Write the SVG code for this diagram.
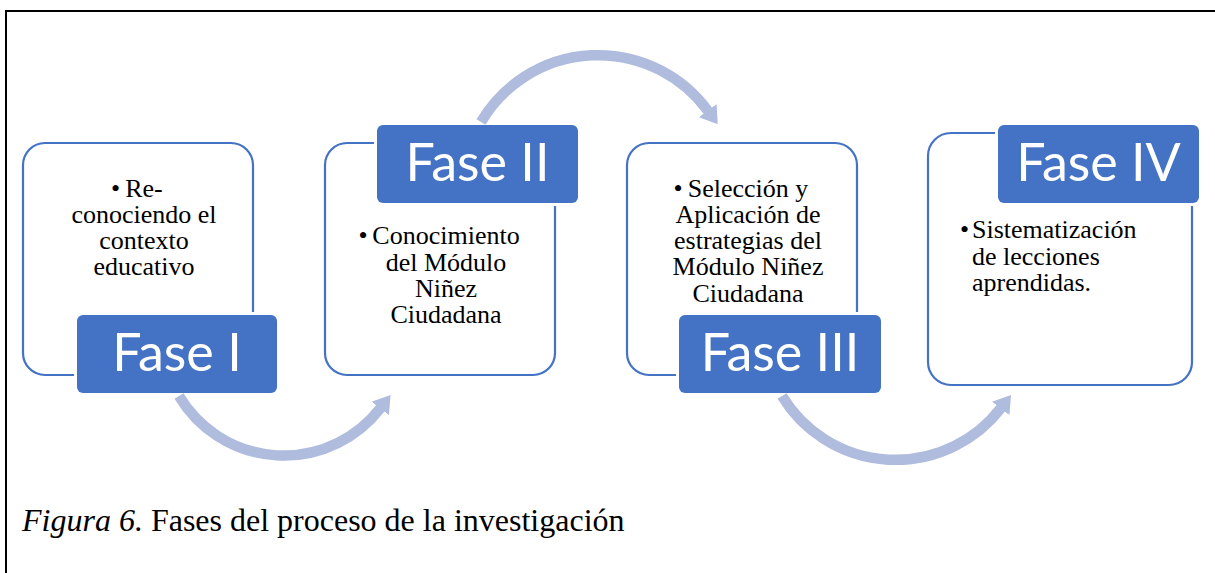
<svg xmlns="http://www.w3.org/2000/svg" width="1215" height="573" viewBox="0 0 1215 573">
<style>
.frame{fill:none;stroke:#000;stroke-width:2}
.box{fill:#fff;stroke:#4472C4;stroke-width:2.2}
.lab{fill:#4472C4;stroke:#fff;stroke-width:6;paint-order:stroke}
.lt{font-family:Lato,"Liberation Sans",sans-serif;font-size:52px;fill:#fff;text-anchor:middle}
.bt{font-family:"Liberation Serif","Times New Roman",serif;font-size:26px;fill:#000}
.c{text-anchor:middle}
.arc{fill:none;stroke:#AFBCDE;stroke-width:10.5}
.cap{font-family:"Liberation Serif","Times New Roman",serif;font-size:32px;fill:#000}
</style>
<defs>
<marker id="ah" markerUnits="userSpaceOnUse" viewBox="0 0 17 22" markerWidth="17" markerHeight="22" refX="0.5" refY="11" orient="auto">
<path d="M0,0 L17,11 L0,22 z" fill="#AFBCDE"/>
</marker>
</defs>
<rect width="1215" height="573" fill="#fff"/>
<path class="frame" d="M6,573 V11 H1215"/>

<g id="fase1">
<rect class="box" x="23" y="143" width="230" height="232" rx="22"/>
<rect class="lab" x="77" y="315" width="200" height="78" rx="6"/>
<text class="lt" x="177" y="371">Fase I</text>
<text class="bt" x="111" y="197">•</text>
<text class="bt c" x="144" y="197">Re-</text>
<text class="bt c" x="144" y="223">conociendo el</text>
<text class="bt c" x="144" y="249">contexto</text>
<text class="bt c" x="144" y="275">educativo</text>
</g>

<g id="fase2">
<rect class="box" x="325" y="143" width="230" height="232" rx="22"/>
<rect class="lab" x="377" y="125" width="201" height="78" rx="6"/>
<text class="lt" x="477.5" y="181">Fase II</text>
<text class="bt" x="358.5" y="244">•</text>
<text class="bt c" x="446" y="244">Conocimiento</text>
<text class="bt c" x="446" y="270.5">del Módulo</text>
<text class="bt c" x="446" y="297">Niñez</text>
<text class="bt c" x="446" y="323">Ciudadana</text>
</g>

<g id="fase3">
<rect class="box" x="627" y="143" width="230" height="232" rx="22"/>
<rect class="lab" x="679" y="315" width="202" height="78" rx="6"/>
<text class="lt" x="780" y="371">Fase III</text>
<text class="bt" x="673.5" y="196.7">•</text>
<text class="bt c" x="748" y="196.7">Selección y</text>
<text class="bt c" x="748" y="222.9">Aplicación de</text>
<text class="bt c" x="748" y="249.1">estrategias del</text>
<text class="bt c" x="748" y="275.3">Módulo Niñez</text>
<text class="bt c" x="748" y="301.5">Ciudadana</text>
</g>

<g id="fase4">
<rect class="box" x="928" y="133" width="264" height="252" rx="23"/>
<rect class="lab" x="998" y="125" width="201" height="78" rx="6"/>
<text class="lt" x="1098.5" y="181">Fase IV</text>
<text class="bt" x="960" y="238.3">•</text>
<text class="bt" x="972" y="238.3">Sistematización</text>
<text class="bt" x="972" y="264.8">de lecciones</text>
<text class="bt" x="972" y="291.3">aprendidas.</text>
</g>

<g id="connectors">
<path class="arc" d="M179,396 A122,122 0 0 0 380.5,408" marker-end="url(#ah)"/>
<path class="arc" d="M481,122 A136,136 0 0 1 708,111" marker-end="url(#ah)"/>
<path class="arc" d="M782,396 A133,133 0 0 0 1001,408" marker-end="url(#ah)"/>
</g>

<text class="cap" x="22" y="531"><tspan font-style="italic">Figura 6.</tspan> Fases del proceso de la investigación</text>
</svg>
